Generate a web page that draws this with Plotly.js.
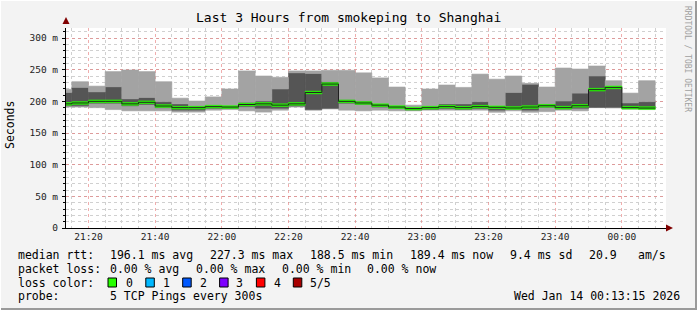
<!DOCTYPE html>
<html>
<head>
<meta charset="utf-8">
<script src="https://cdn.plot.ly/plotly-3.0.1.min.js"></script>
<style>html,body{margin:0;padding:0;background:#f3f3f3;}#chart{width:697px;height:310px;}</style>
</head>
<body>
<div id="chart"></div>
<script>
// interval start times (5-minute steps)
const times = ['2026-01-13 21:10:00','2026-01-13 21:15:00','2026-01-13 21:20:00','2026-01-13 21:25:00',
  '2026-01-13 21:30:00','2026-01-13 21:35:00','2026-01-13 21:40:00','2026-01-13 21:45:00',
  '2026-01-13 21:50:00','2026-01-13 21:55:00','2026-01-13 22:00:00','2026-01-13 22:05:00',
  '2026-01-13 22:10:00','2026-01-13 22:15:00','2026-01-13 22:20:00','2026-01-13 22:25:00',
  '2026-01-13 22:30:00','2026-01-13 22:35:00','2026-01-13 22:40:00','2026-01-13 22:45:00',
  '2026-01-13 22:50:00','2026-01-13 22:55:00','2026-01-13 23:00:00','2026-01-13 23:05:00',
  '2026-01-13 23:10:00','2026-01-13 23:15:00','2026-01-13 23:20:00','2026-01-13 23:25:00',
  '2026-01-13 23:30:00','2026-01-13 23:35:00','2026-01-13 23:40:00','2026-01-13 23:45:00',
  '2026-01-13 23:50:00','2026-01-13 23:55:00','2026-01-14 00:00:00','2026-01-14 00:05:00'];
// sorted ping RTTs per interval (ms)
const pingMin = [191,191,190,187,185,185,185,183,183,186,187,185,183,186,191,186,188,186,185,186,185,185,186,186,186,186,182.7,185,182.7,183.7,186,185,190,189.5,187.4,187];
const ping2   = [193,193,197,197,193,195,190,186,186,189,189,191.6,189,189,192.6,187,189,197,195,191,189,186.5,187.4,188.4,187.4,188.4,186,187.4,186,190.6,188,189,190.5,190.6,189,188.4];
const median  = [196,197.4,200,200,196,198.5,192.6,190,190,191.6,191,195,196,194,196,214,227.3,200,197.4,194,191,188.5,190,191.6,190,191.6,190.6,189.5,191,193,190,193,218.4,222,190,189.4];
const ping4   = [214,222,215,223,204,206,199.5,196,192.6,194,193,198.5,200.5,219.5,245,244,231,203,200.5,196,192.6,190,192.6,196,196,199.5,191.6,214,227,196,200.5,213,240,223.5,197.4,199.5];
const pingMax = [219,231,224,247,249.5,247,231,205,200.5,207,219.5,248,240,238,248,248,249,249,245,237,222.6,194,219.5,225.8,222,243,235,240,228.4,222.6,252.6,251,255.8,232.6,213,232.6];

const yTickVals = [0,50,100,150,200,250,300];
const yTickText = ['0','50 m','100 m','150 m','200 m','250 m','300 m'];

const STEP = 300000;
const LIGHT = '#a3a3a3', DARK = '#555555', GREEN = '#26ff00';
const BAND = 2.1;

function diff(a,b){return a.map((v,i)=>v-b[i]);}
function barTrace(base, top, color){
  return {type:'bar', x:times, base:base, y:diff(top,base), width:STEP, offset:0,
    marker:{color:color, line:{width:0.6, color:color}}, hoverinfo:'skip', showlegend:false};
}
const medLow = median.map(v=>v-BAND);
const medHigh = median.map(v=>v+BAND);
const stepX = times.concat(['2026-01-14 00:10:00']);
const stepMed = median.concat([median[median.length-1]]);

const traces = [
  barTrace(pingMin, ping2, LIGHT),
  barTrace(ping2, ping4, DARK),
  barTrace(ping4, pingMax, LIGHT),
  {type:'scatter', mode:'lines', x:stepX, y:stepMed, line:{shape:'hv', color:'#202020', width:1}, hoverinfo:'skip', showlegend:false},
  barTrace(medLow, medHigh, GREEN)
];

function px(p){return (p-66)/600;}
function py(q){return (228-q)/200;}
const mono = 'DejaVu Sans Mono';
function txt(s, x, y, opts){
  return Object.assign({text:s, xref:'paper', yref:'paper', x:px(x), y:py(y), xanchor:'left', yanchor:'middle',
    showarrow:false, font:{family:mono, size:11.5, color:'#000'}}, opts||{});
}
const annotations = [
  txt('Last 3 Hours from smokeping to Shanghai', 348, 17, {xanchor:'center', font:{family:mono, size:13, color:'#000'}}),
  txt('Seconds', 10, 125, {xanchor:'center', textangle:-90, font:{family:mono, size:11.5, color:'#000'}}),
  txt('RRDTOOL / TOBI OETIKER', 688, 59, {xanchor:'center', textangle:90, font:{family:mono, size:8, color:'#a0a0a0'}}),
  txt('median rtt:', 16.4, 255), txt('196.1 ms avg', 107.6, 255), txt('227.3 ms max', 207.6, 255),
  txt('188.5 ms min', 307.6, 255), txt('189.4 ms now', 408, 255), txt('9.4 ms sd', 508, 255),
  txt('20.9', 586.7, 255), txt('am/s', 635.6, 255),
  txt('packet loss:', 16.4, 268.5), txt('0.00 % avg', 107.6, 268.5), txt('0.00 % max', 194, 268.5),
  txt('0.00 % min', 280, 268.5), txt('0.00 % now', 365.3, 268.5),
  txt('loss color:', 16.4, 282.5), txt('0', 123.6, 282.5), txt('1', 161, 282.5), txt('2', 197.8, 282.5),
  txt('3', 234, 282.5), txt('4', 271.6, 282.5), txt('5/5', 308, 282.5),
  txt('probe:', 16.4, 296), txt('5 TCP Pings every 300s', 107.6, 296),
  txt('Wed Jan 14 00:13:15 2026', 512.4, 296)
];
const lossColors = ['#26ff00','#00b8ff','#0059ff','#7e00ff','#ff0000','#a80000'];
const lossX = [108, 145.8, 182.7, 219.6, 256.4, 293.3];
const shapes = [];
lossColors.forEach((c,i)=>{
  shapes.push({type:'rect', xref:'paper', yref:'paper', x0:px(lossX[i]), x1:px(lossX[i]+8.5), y0:py(287), y1:py(278),
    fillcolor:c, line:{color:'#000', width:1}});
});
// frame
shapes.push({type:'line', xref:'paper', yref:'paper', x0:px(0), x1:px(697), y0:py(309), y1:py(309), line:{color:'#9a9a9a', width:2}});
shapes.push({type:'line', xref:'paper', yref:'paper', x0:px(696), x1:px(696), y0:py(0), y1:py(310), line:{color:'#9a9a9a', width:2}});
shapes.push({type:'line', xref:'paper', yref:'paper', x0:px(0), x1:px(697), y0:py(0.5), y1:py(0.5), line:{color:'#ffffff', width:1}});
shapes.push({type:'line', xref:'paper', yref:'paper', x0:px(0.5), x1:px(0.5), y0:py(0), y1:py(310), line:{color:'#ffffff', width:1}});
// axis arrows
shapes.push({type:'path', xref:'paper', yref:'paper', path:`M ${px(62.5)} ${py(24)} L ${px(69.5)} ${py(24)} L ${px(66)} ${py(17)} Z`, fillcolor:'#800000', line:{width:0}});
shapes.push({type:'path', xref:'paper', yref:'paper', path:`M ${px(666)} ${py(224.5)} L ${px(666)} ${py(231.5)} L ${px(673)} ${py(228)} Z`, fillcolor:'#800000', line:{width:0}});

const layout = {
  width:697, height:310,
  margin:{l:66, r:31, t:28, b:82},
  paper_bgcolor:'#f3f3f3', plot_bgcolor:'#ffffff',
  barmode:'overlay', showlegend:false, hovermode:false,
  xaxis:{type:'date', range:['2026-01-13 21:13:15','2026-01-14 00:13:15'],
    tick0:'2026-01-13 21:20:00', dtick:1200000, tickformat:'%H:%M',
    showgrid:true, gridcolor:'rgba(230,120,120,0.6)', griddash:'dot', gridwidth:1,
    minor:{tick0:'2026-01-13 21:15:00', dtick:300000, showgrid:true, gridcolor:'#d0d0d0', griddash:'dot', gridwidth:1},
    showline:true, linecolor:'#000', linewidth:1, ticks:'', zeroline:false,
    tickfont:{family:mono, size:9.5, color:'#222'}, ticklabelstandoff:0, layer:'above traces'},
  yaxis:{range:[0,315.8], tickvals:yTickVals, ticktext:yTickText,
    showgrid:true, gridcolor:'rgba(230,120,120,0.6)', griddash:'dot', gridwidth:1,
    minor:{dtick:10, showgrid:true, gridcolor:'#d0d0d0', griddash:'dot', gridwidth:1, ticks:'outside', ticklen:2, tickcolor:'#000'},
    showline:true, linecolor:'#000', linewidth:1, ticks:'outside', ticklen:3, tickcolor:'#000', zeroline:false,
    tickfont:{family:mono, size:9.5, color:'#222'}, ticklabelstandoff:2, layer:'above traces'},
  annotations:annotations, shapes:shapes
};
Plotly.newPlot('chart', traces, layout, {staticPlot:true, displayModeBar:false});
</script>
</body>
</html>
